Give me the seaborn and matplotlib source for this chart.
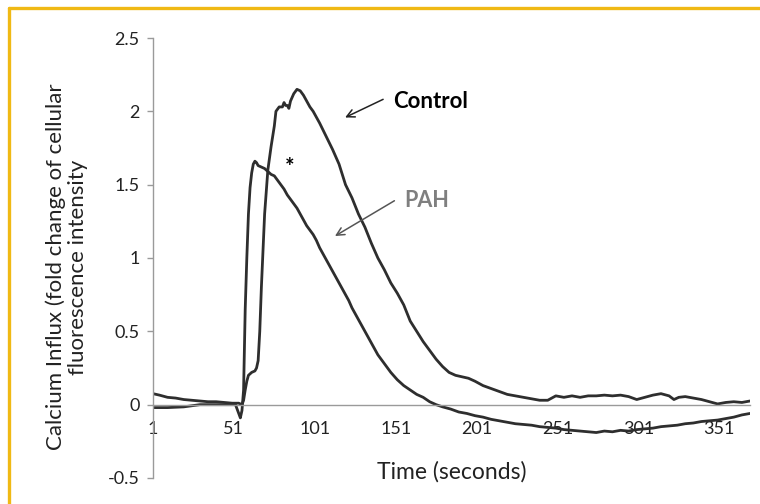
import matplotlib
matplotlib.use("Agg")
import matplotlib.pyplot as plt
from matplotlib.lines import Line2D
import seaborn as sns
import pandas as pd

# values (fold change vs time in seconds)
ctrl_time = [1, 5, 10, 15, 20, 25, 30, 35, 40, 45, 50, 54, 56, 57, 58, 59, 60, 62, 64, 65,
             66, 67, 68, 69, 70, 71, 72, 74, 76, 77, 79, 81, 82, 83, 84, 85, 86, 88, 90, 92,
             94, 96, 98, 100, 102, 104, 108, 112, 116, 120, 124, 128, 132, 136, 140, 144, 148,
             152, 156, 160, 164, 168, 172, 176, 180, 184, 188, 192, 196, 200, 205, 210, 215,
             220, 225, 230, 235, 240, 245, 250, 255, 260, 265, 270, 275, 280, 285, 290, 295,
             300, 305, 310, 315, 320, 323, 326, 330, 335, 340, 345, 350, 355, 360, 365, 370]
ctrl_vals = [0.075, 0.065, 0.05, 0.045, 0.035, 0.03, 0.025, 0.02, 0.02, 0.015, 0.01, 0.01, 0.0,
             0.03, 0.1, 0.16, 0.2, 0.22, 0.23, 0.25, 0.3, 0.5, 0.8, 1.05, 1.3, 1.45, 1.6, 1.76,
             1.9, 2.0, 2.03, 2.03, 2.06, 2.04, 2.04, 2.02, 2.07, 2.12, 2.15, 2.14, 2.11, 2.07,
             2.03, 2.0, 1.96, 1.92, 1.83, 1.74, 1.64, 1.5, 1.41, 1.3, 1.21, 1.1, 1.0, 0.92,
             0.83, 0.76, 0.68, 0.57, 0.5, 0.43, 0.37, 0.31, 0.26, 0.22, 0.2, 0.19, 0.18, 0.16,
             0.13, 0.11, 0.09, 0.07, 0.06, 0.05, 0.04, 0.03, 0.03, 0.06, 0.05, 0.06, 0.05, 0.06,
             0.06, 0.065, 0.06, 0.065, 0.055, 0.035, 0.05, 0.065, 0.075, 0.06, 0.035, 0.05,
             0.055, 0.045, 0.035, 0.02, 0.005, 0.015, 0.02, 0.015, 0.025]

pah_time = [1, 10, 20, 30, 40, 50, 52, 54, 55, 56, 57, 58, 59, 60, 61, 62, 63, 64, 65, 66, 68,
            70, 72, 74, 76, 78, 80, 82, 84, 86, 88, 90, 92, 94, 96, 98, 100, 102, 104, 106, 108,
            110, 112, 114, 116, 118, 120, 122, 124, 126, 128, 130, 132, 134, 136, 138, 140, 144,
            148, 152, 156, 160, 164, 168, 172, 176, 180, 185, 190, 195, 200, 205, 210, 215, 220,
            225, 230, 235, 240, 245, 250, 255, 260, 265, 270, 275, 280, 285, 290, 295, 300, 305,
            310, 315, 320, 325, 330, 335, 340, 345, 350, 355, 360, 365, 370]
pah_vals = [-0.02, -0.02, -0.015, 0.0, 0.0, 0.0, 0.0, -0.06, -0.09, -0.04, 0.1, 0.65, 1.0, 1.3,
            1.48, 1.58, 1.64, 1.66, 1.65, 1.63, 1.62, 1.61, 1.59, 1.57, 1.56, 1.53, 1.5, 1.47,
            1.43, 1.4, 1.37, 1.34, 1.3, 1.26, 1.22, 1.19, 1.16, 1.12, 1.07, 1.03, 0.99, 0.95,
            0.91, 0.87, 0.83, 0.79, 0.75, 0.71, 0.66, 0.62, 0.58, 0.54, 0.5, 0.46, 0.42, 0.38,
            0.34, 0.28, 0.22, 0.17, 0.13, 0.1, 0.07, 0.05, 0.02, 0.0, -0.015, -0.03, -0.05,
            -0.06, -0.075, -0.085, -0.1, -0.11, -0.12, -0.13, -0.135, -0.14, -0.15, -0.155,
            -0.16, -0.17, -0.175, -0.18, -0.185, -0.19, -0.18, -0.185, -0.175, -0.18, -0.17,
            -0.165, -0.16, -0.15, -0.145, -0.14, -0.13, -0.125, -0.115, -0.11, -0.105, -0.095,
            -0.085, -0.07, -0.06]

x_ticks = [1, 51, 101, 151, 201, 251, 301, 351]
y_ticks = [-0.5, 0, 0.5, 1, 1.5, 2, 2.5]
y_labels = ["-0.5", "0", "0.5", "1", "1.5", "2", "2.5"]

df = pd.concat([
    pd.DataFrame({"time": ctrl_time, "value": ctrl_vals, "group": "Control"}),
    pd.DataFrame({"time": pah_time, "value": pah_vals, "group": "PAH"}),
])

sns.set_style("white")
plt.rcParams["font.family"] = ["Lato", "DejaVu Sans"]

fig = plt.figure(figsize=(7.6, 5.04), dpi=100)
ax = fig.add_axes([0.2013, 0.0516, 0.7855, 0.873])

sns.lineplot(data=df, x="time", y="value", hue="group",
             palette={"Control": "#2e2e2e", "PAH": "#2e2e2e"},
             linewidth=2.0, legend=False, ax=ax, sort=False)

ax.set_xlim(1, 370)
ax.set_ylim(-0.5, 2.5)
ax.set_xticks(x_ticks)
ax.set_yticks(y_ticks)
ax.set_yticklabels(y_labels)
ax.set_xlabel("")
ax.set_ylabel("")

# excel style axes: x axis sits on zero
for s in ["top", "right"]:
    ax.spines[s].set_visible(False)
ax.spines["bottom"].set_position(("data", 0))
ax.spines["bottom"].set_color("#9a9a9a")
ax.spines["left"].set_color("#9a9a9a")
ax.spines["bottom"].set_linewidth(1.0)
ax.spines["left"].set_linewidth(1.0)
ax.tick_params(axis="x", length=0, pad=12, labelsize=13, labelcolor="#222222")
ax.tick_params(axis="y", length=4.5, width=1, color="#9a9a9a", pad=5,
               labelsize=13, labelcolor="#222222", left=True)

fig.text(0.0875, 0.47, "Calcium Influx (fold change of cellular\nfluorescence intensity",
         rotation=90, ha="center", va="center", fontsize=16, color="#222222",
         linespacing=1.1)
fig.text(0.594, 0.0635, "Time (seconds)", ha="center", va="center", fontsize=16.5,
         color="#222222")

# labels with arrows
ax.text(149.2, 2.07, "Control", fontsize=16, fontweight="bold", color="black",
        ha="left", va="center")
ax.annotate("", xy=(118.2, 1.95), xytext=(144.8, 2.09),
            arrowprops=dict(arrowstyle="->", color="#222222", lw=1.1, mutation_scale=14))
ax.text(156.6, 1.39, "PAH", fontsize=15.5, fontweight="bold", color="#7f7f7f",
        ha="left", va="center")
ax.annotate("", xy=(112, 1.14), xytext=(151.7, 1.40),
            arrowprops=dict(arrowstyle="->", color="#555555", lw=1.1, mutation_scale=14))
ax.text(85.3, 1.62, "*", fontsize=16, fontweight="bold", color="black",
        ha="center", va="center")

# gold frame on top and left
fig.add_artist(Line2D([0.0112, 1.0], [0.985, 0.985], transform=fig.transFigure,
                      color="#f0b914", linewidth=2.4))
fig.add_artist(Line2D([0.0112, 0.0112], [0.0, 0.985], transform=fig.transFigure,
                      color="#f0b914", linewidth=2.4))

fig.savefig("out.png", dpi=100)
